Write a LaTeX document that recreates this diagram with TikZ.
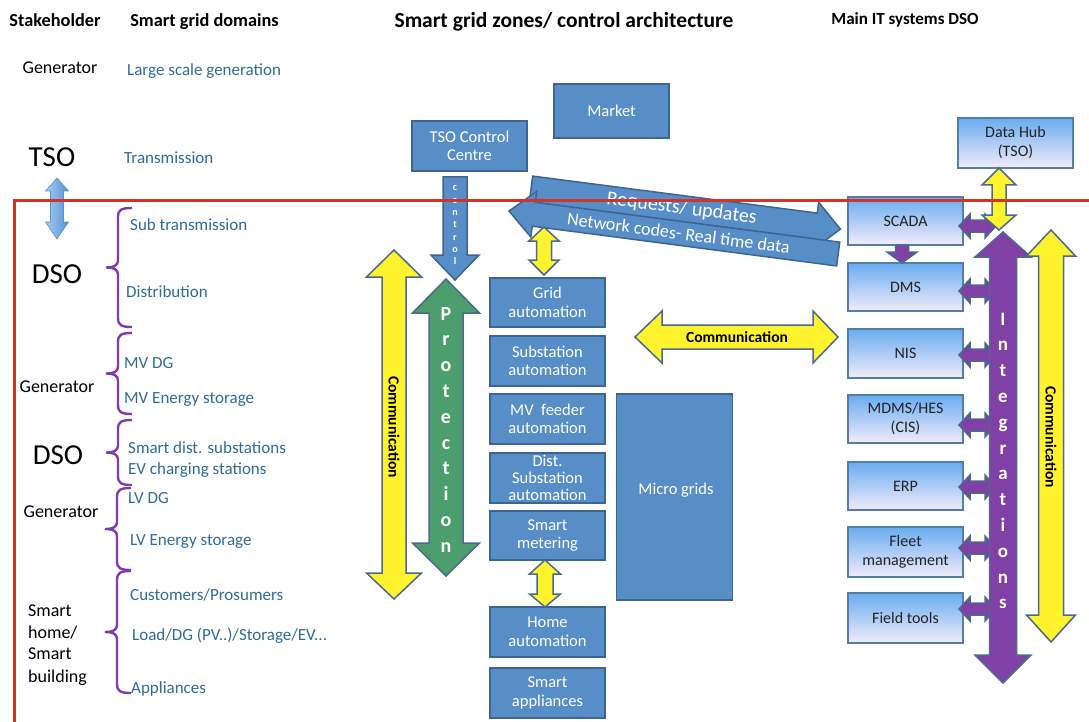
\documentclass[tikz,border=0pt]{standalone}
\usepackage{fontspec}
\setmainfont{Carlito}
\definecolor{boxfill}{RGB}{88,142,199}
\definecolor{boxline}{RGB}{62,100,145}
\definecolor{itop}{RGB}{105,172,240}
\definecolor{ibot}{RGB}{242,236,250}
\definecolor{itline}{RGB}{85,125,170}
\definecolor{itext}{RGB}{35,35,35}
\definecolor{ylw}{RGB}{255,243,45}
\definecolor{arrline}{RGB}{75,105,145}
\definecolor{grn}{RGB}{76,158,108}
\definecolor{prp}{RGB}{128,64,166}
\definecolor{dom}{RGB}{48,108,150}
\definecolor{redl}{RGB}{212,52,40}
\definecolor{brc}{RGB}{128,60,175}
\definecolor{lbl}{RGB}{165,205,240}
\definecolor{lbd}{RGB}{85,145,212}
% vertical double arrow: style, cx, tip1, base1, base2, tip2, half head, half shaft
\newcommand{\vdarrow}[8]{\draw[#1] ({#2-#8},#4) -- ({#2-#7},#4) -- (#2,#3) -- ({#2+#7},#4) -- ({#2+#8},#4) -- ({#2+#8},#5) -- ({#2+#7},#5) -- (#2,#6) -- ({#2-#7},#5) -- ({#2-#8},#5) -- cycle;}
% horizontal double arrow: style, cy, tip1, base1, base2, tip2, half head, half shaft
\newcommand{\hdarrow}[8]{\draw[#1] (#4,{#2-#8}) -- (#4,{#2-#7}) -- (#3,#2) -- (#4,{#2+#7}) -- (#4,{#2+#8}) -- (#5,{#2+#8}) -- (#5,{#2+#7}) -- (#6,#2) -- (#5,{#2-#7}) -- (#5,{#2-#8}) -- cycle;}
% brace: x, top, mid, bottom
\newcommand{\mybrace}[4]{\draw[bracestyle] ({#1+14},#2) .. controls ({#1+3},#2) and (#1,{#2+2}) .. (#1,{#2+9}) -- (#1,{#3-7}) .. controls (#1,{#3-2}) and ({#1-4},#3) .. ({#1-12},#3) .. controls ({#1-4},#3) and (#1,{#3+2}) .. (#1,{#3+7}) -- (#1,{#4-9}) .. controls (#1,{#4-2}) and ({#1+3},#4) .. ({#1+14},#4);}
\begin{document}
\begin{tikzpicture}[x=1pt,y=-1pt,
  hdr/.style={font=\fontsize{18.3}{21}\selectfont\bfseries, inner sep=0pt},
  stk/.style={font=\fontsize{18}{21}\selectfont, inner sep=0pt},
  big/.style={font=\fontsize{29}{32}\selectfont, inner sep=0pt},
  domtext/.style={font=\fontsize{17}{20}\selectfont, text=dom, inner sep=0pt, anchor=base west},
  bbox/.style={draw=boxline, line width=1.6pt, fill=boxfill, text=white, minimum width=115pt, minimum height=49pt, inner sep=1pt, align=center, font=\fontsize{16.5}{18.5}\selectfont},
  itbox/.style={draw=itline, line width=2pt, top color=itop, bottom color=ibot, text=itext, minimum width=115pt, minimum height=48pt, inner sep=1pt, align=center, font=\fontsize{16}{19}\selectfont},
  yarrow/.style={fill=ylw, draw=arrline, line width=1.5pt, line join=miter},
  garrow/.style={fill=grn, draw=arrline, line width=1.5pt},
  parrow/.style={fill=prp, draw=arrline, line width=1.5pt},
  barrow/.style={fill=boxfill, draw=boxline, line width=1.5pt},
  lbarrow/.style={left color=lbl, right color=lbd, draw=lbd, line width=0.6pt},
  bracestyle/.style={draw=brc, line width=2.4pt},
  vlet/.style={text=white, font=\fontsize{20}{22}\selectfont\bfseries, inner sep=0pt, anchor=base},
  clet/.style={text=white, font=\fontsize{10}{11}\selectfont\bfseries, inner sep=0pt, anchor=base},
  commtext/.style={font=\fontsize{15.5}{18}\selectfont\bfseries, inner sep=0pt}
]
\useasboundingbox (0,0) rectangle (1089,722);
\fill[white] (0,0) rectangle (1089,722);

% headers
\node[hdr, anchor=base] (hstake) at (55,27) {Stakeholder};
\node[hdr, anchor=base] (hdom) at (204.5,27) {Smart grid domains};
\node[font=\fontsize{21.5}{24}\selectfont\bfseries, inner sep=0pt, anchor=base] (hzone) at (564,28) {Smart grid zones/ control architecture};
\node[font=\fontsize{17}{20}\selectfont\bfseries, inner sep=0pt, anchor=base] (hit) at (905,25) {Main IT systems DSO};

% stakeholders
\node[stk, anchor=base] (g1) at (60,74) {Generator};
\node[big, anchor=base] (tso) at (52,167) {TSO};
\node[big, anchor=base] (dso1) at (57,283) {DSO};
\node[stk, anchor=base] (g2) at (57,392) {Generator};
\node[big, anchor=base] (dso2) at (58,464) {DSO};
\node[stk, anchor=base] (g3) at (61,517) {Generator};
\node[stk, anchor=base west] (sh1) at (28,616) {Smart};
\node[stk, anchor=base west] (sh2) at (28,638) {home/};
\node[stk, anchor=base west] (sh3) at (28,659) {Smart};
\node[stk, anchor=base west] (sh4) at (28,682) {building};

% domains
\node[domtext] (d1) at (127,76) {Large scale generation};
\node[domtext] (d2) at (124,164) {Transmission};
\node[domtext] (d3) at (130,230) {Sub transmission};
\node[domtext] (d4) at (126,297) {Distribution};
\node[domtext] (d5) at (124,368) {MV DG};
\node[domtext] (d6) at (124,403) {MV Energy storage};
\node[domtext] (d7) at (128,453) {Smart dist. substations};
\node[domtext] (d8) at (128,474) {EV charging stations};
\node[domtext] (d9) at (128,503) {LV DG};
\node[domtext] (d10) at (130,545) {LV Energy storage};
\node[domtext] (d11) at (130,600) {Customers/Prosumers};
\node[domtext] (d12) at (132,640) {Load/DG (PV..)/Storage/EV...};
\node[domtext] (d13) at (131,693) {Appliances};

% braces
\mybrace{118}{208}{267.5}{327}
\mybrace{118}{333}{373.5}{414}
\mybrace{118}{420}{452.5}{485}
\mybrace{117}{488}{529}{570}
\mybrace{117}{571}{632}{693}

% TSO <-> DSO arrow
\vdarrow{lbarrow}{57}{178}{191}{222}{239}{11.5}{6.5}

% center boxes
\node[bbox, minimum height=54pt] (market) at (611.5,111) {Market};
\node[bbox, minimum height=50pt] (tsocc) at (469.5,146) {TSO Control\\Centre};
\node[bbox] (grid) at (547.5,302.5) {Grid\\automation};
\node[bbox, minimum height=50pt] (subst) at (547.5,361) {Substation\\automation};
\node[bbox, minimum height=50pt] (mvf) at (547.5,419) {MV~ feeder\\automation};
\node[bbox, minimum height=50pt, font=\fontsize{16.5}{17}\selectfont] (dist) at (547.5,478) {Dist.\\Substation\\automation};
\node[bbox] (smeter) at (547.5,535.5) {Smart\\metering};
\node[bbox, minimum height=50pt] (home) at (547.5,632) {Home\\automation};
\node[bbox, minimum height=50pt] (sapp) at (547.5,693) {Smart\\appliances};
\node[bbox, minimum width=116pt, minimum height=206pt] (micro) at (674.5,497) {};
\node[text=white, font=\fontsize{16.5}{18.5}\selectfont, inner sep=0pt] (microt) at (676,490) {Micro grids};

% control arrow
\draw[barrow] (443,177) -- (467,177) -- (467,255) -- (479,255) -- (455,280) -- (431,255) -- (443,255) -- cycle;
\foreach \l [count=\i from 0] in {c,o,n,t,r,o,l}
  {\node[clet] at (455,{191+12.3*\i}) {\l};}

% left communication and protection
\vdarrow{yarrow}{394}{250}{277}{573}{599}{27.5}{12}
\node[commtext, rotate=-90] (lcomm) at (394,427) {Communication};
\vdarrow{garrow}{446}{279}{313}{543}{576}{33.5}{17}
\foreach \l [count=\i from 0] in {P,r,o,t,e,c,t,i,o,n}
  {\node[vlet] at (446,{320+25.8*\i}) {\l};}

% small yellow arrows
\vdarrow{yarrow}{545}{560}{574}{594}{607}{15.5}{8}

% requests / network arrows
\begin{scope}[shift={(531,189)}, rotate=-7.4]
  \draw[barrow] (0,-13) -- (287,-13) -- (287,-24) -- (312,0) -- (287,24) -- (287,13) -- (0,13) -- cycle;
  \node[text=white, font=\fontsize{20}{22}\selectfont, inner sep=0pt, rotate=-7.4] (req) at (152,0) {Requests/ updates};
\end{scope}
\begin{scope}[shift={(509,211)}, rotate=-7.45]
  \draw[barrow] (0,0) -- (25,-23) -- (25,-12) -- (332,-12) -- (332,12) -- (25,12) -- (25,23) -- cycle;
  \node[text=white, font=\fontsize{18}{20}\selectfont, inner sep=0pt, rotate=-7.45] (net) at (171,0) {Network codes- Real time data};
\end{scope}
\vdarrow{yarrow}{544}{227}{241}{260}{275}{15}{7.5}

% horizontal communication
\hdarrow{yarrow}{337}{635}{662}{813}{838}{26}{12}
\node[commtext] (hcomm) at (737,337) {Communication};

% right IT boxes
\node[itbox, minimum height=50pt] (hub) at (1015.5,143) {Data Hub\\(TSO)};
\node[itbox] (scada) at (905.5,221) {SCADA};
\node[itbox] (dms) at (905.5,287) {DMS};
\node[itbox, minimum height=49pt] (nis) at (905.5,353.5) {NIS};
\node[itbox] (mdms) at (905.5,419) {MDMS/HES\\(CIS)};
\node[itbox] (erp) at (905.5,486) {ERP};
\node[itbox, minimum height=50pt] (fleet) at (905.5,552) {Fleet\\management};
\node[itbox, minimum height=50pt] (field) at (905.5,618) {Field tools};

% SCADA -> DMS
\draw[parrow] (895.5,245) -- (908.5,245) -- (908.5,252) -- (917,252) -- (902,263) -- (887,252) -- (895.5,252) -- cycle;

% purple links
\foreach \yy in {226,291,355,425,487,548,609}
  {\hdarrow{parrow}{\yy}{959}{970}{985}{996}{12}{6}}

% data hub arrow
\vdarrow{yarrow}{999}{168}{185}{215}{230}{17}{7}

% integrations
\vdarrow{parrow}{1003}{232}{257}{655}{683}{28}{13.5}
\foreach \l [count=\i from 0] in {I,n,t,e,g,r,a,t,i,o,n,s}
  {\node[vlet, font=\fontsize{19}{21}\selectfont\bfseries] at (1003,{325+25.8*\i}) {\l};}

% right communication
\vdarrow{yarrow}{1051}{230}{256}{615}{642}{24.5}{12.5}
\node[commtext, rotate=-90] (rcomm) at (1051,437) {Communication};

% red boundary
\draw[redl, line width=3pt] (14,722) -- (14,201) -- (1089,201);
\end{tikzpicture}
\end{document}
